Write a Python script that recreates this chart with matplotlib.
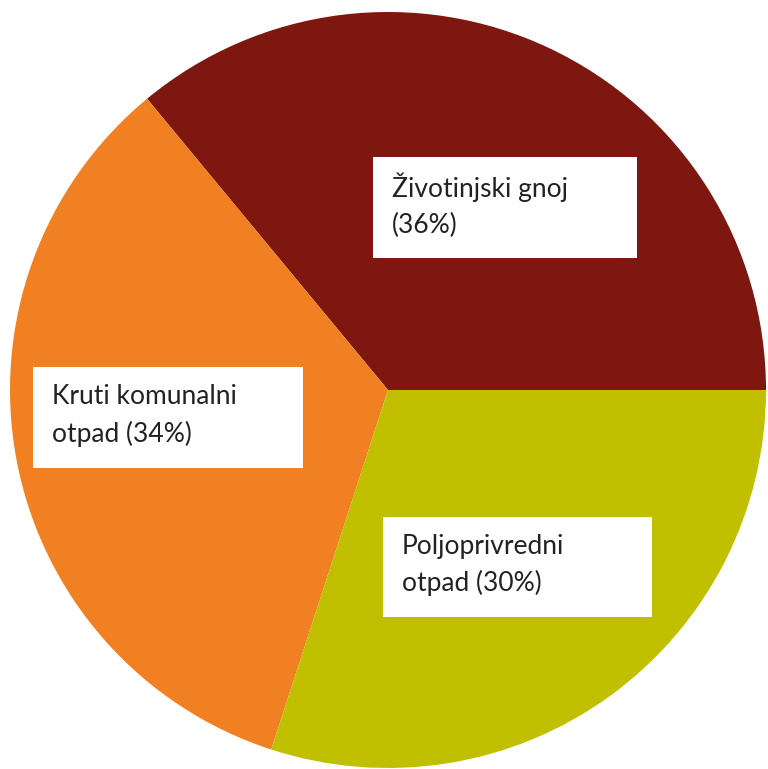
import matplotlib
matplotlib.use("Agg")
import matplotlib.pyplot as plt
from matplotlib.patches import Rectangle

# data
labels = ["Životinjski gnoj\n(36%)", "Kruti komunalni\notpad (34%)", "Poljoprivredni\notpad (30%)"]
shares = [36, 34, 30]
colors = ["#7D170F", "#F18023", "#C0C000"]

# label boxes, pixel coords (left, top, right, bottom)
BOXES = [(373, 157, 637, 258), (33, 367, 303, 468), (383, 517, 652, 617)]

W, H = 768, 769
CX, CY, R = 388, 390, 378

fig = plt.figure(figsize=(W / 100, H / 100), dpi=100)
ax = fig.add_axes([0, 0, 1, 1])
ax.pie(shares, colors=colors, startangle=0, counterclock=True, radius=1,
       wedgeprops=dict(linewidth=0))
ax.set_xlim(-CX / R, (W - CX) / R)
ax.set_ylim(-(H - CY) / R, CY / R)
ax.set_aspect("equal")
ax.axis("off")

for label, (x0, y0, x1, y1) in zip(labels, BOXES):
    fig.patches.append(Rectangle((x0 / W, 1 - y1 / H), (x1 - x0) / W, (y1 - y0) / H,
                                 transform=fig.transFigure, facecolor="white",
                                 edgecolor="none", zorder=3))
    fig.text((x0 + 19) / W, 1 - ((y0 + y1) / 2 - 2) / H, label,
             ha="left", va="center", fontsize=19, family="Lato",
             color="#222222", linespacing=1.55, zorder=4)

fig.savefig("out.png", dpi=100)
